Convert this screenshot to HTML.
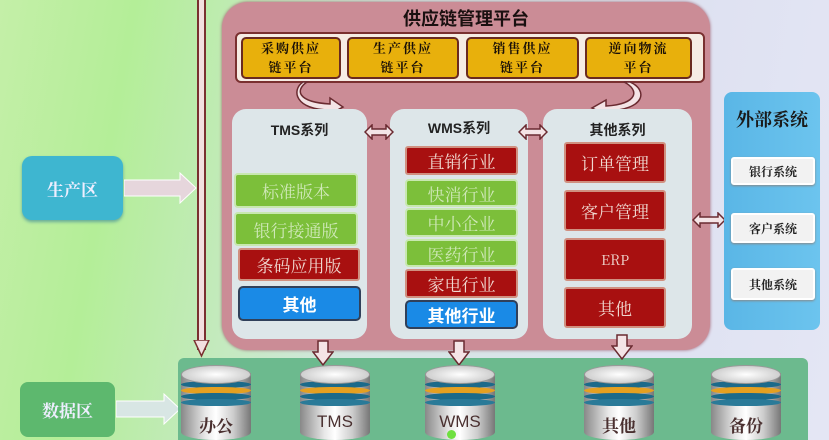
<!DOCTYPE html>
<html><head><meta charset="utf-8"><style>
*{margin:0;padding:0;box-sizing:border-box}
body{width:829px;height:440px;overflow:hidden;position:relative;font-family:"Liberation Sans","Noto Sans CJK SC",sans-serif;
background:linear-gradient(100deg,#c4efa8 0%,#b4ee98 15%,#d2e6e0 45%,#dfe2f2 80%,#e4e6f4 100%)}
.a{position:absolute}
.c{display:flex;align-items:center;justify-content:center;text-align:center}
.y{background:#e8b00c;border:2px solid #6a2a20;border-radius:5px;font-weight:bold;font-size:13px;line-height:19px;color:#1a1008;letter-spacing:2px;font-family:"Liberation Serif","Noto Serif CJK SC",serif}
.g{background:#7cbf3a;border:2px solid #c8e8b0;border-radius:4px;color:#cfe8b8;font-size:17px;font-family:"Noto Serif CJK SC",serif}
.r{background:#a81010;border:2px solid #d09080;border-radius:3px;color:#f0d8d0;font-size:17px;font-family:"Noto Serif CJK SC",serif}
.b{background:#1a8ae6;border:2px solid #30405a;border-radius:5px;color:#fff;font-size:17px;font-weight:bold}
.col{background:#dde6e9;border-radius:14px}
.hd{font-size:14px;font-weight:bold;color:#222}
.ex{background:#f2f2f2;border:2px solid #fff;border-radius:3px;box-shadow:0 1px 2px #888;font-size:12px;font-weight:bold;color:#222;font-family:"Noto Serif CJK SC",serif}
.cyl{position:absolute;width:70px;height:75px}
.cyl .body{position:absolute;left:0;top:8px;width:70px;height:67px;border-radius:0 0 35px 35px/0 0 8px 8px;background:linear-gradient(90deg,#888 0%,#e8e8e8 35%,#fff 50%,#ccc 75%,#777 100%)}
.cyl .band{position:absolute;left:0;width:70px;height:7px;border-radius:35px/4px}
.cyl .top{position:absolute;left:0;top:0;width:70px;height:19px;border-radius:50%;background:radial-gradient(#fff,#bbb);border:1px solid #999}
.cyl .lb{position:absolute;left:0;width:70px;top:47px;text-align:center;font-size:17px;color:#4a3030}
</style></head><body>

<div class="a" style="left:197px;top:0;width:9px;height:350px;border-left:2px solid #7a3030;border-right:2px solid #7a3030;background:#f2e0e0"></div>
<svg class="a" style="left:193px;top:340px" width="17" height="18"><polygon points="1,0 16,0 8.5,16" fill="#f2e0e0" stroke="#7a3030" stroke-width="1.5"/></svg>

<div class="a" style="left:222px;top:2px;width:488px;height:348px;background:#cb8c96;border-radius:26px;box-shadow:0 0 3px #a06070"></div>
<div class="a hd" style="left:222px;top:5px;width:488px;text-align:center;font-size:18px;color:#1a1010">供应链管理平台</div>
<div class="a" style="left:235px;top:32px;width:470px;height:51px;background:#f6ece4;border:2px solid #7a3030;border-radius:6px"></div>
<div class="a c y" style="left:241px;top:37px;width:100px;height:42px">采购供应<br>链平台</div>
<div class="a c y" style="left:347px;top:37px;width:112px;height:42px">生产供应<br>链平台</div>
<div class="a c y" style="left:466px;top:37px;width:113px;height:42px">销售供应<br>链平台</div>
<div class="a c y" style="left:585px;top:37px;width:107px;height:42px">逆向物流<br>平台</div>

<svg class="a" style="left:295px;top:80px" width="60" height="36"><path d="M12,2 C0,10 2,22 35,24 L35,18 L48,27 L35,34 L35,30 C0,30 -4,10 8,2 Z" fill="#f4e4e6" stroke="#6a2a30" stroke-width="1.5"/></svg>
<svg class="a" style="left:588px;top:80px" width="60" height="36"><path d="M36,2 C52,10 50,24 18,26 L18,20 L4,28 L18,35 L18,31 C58,30 60,10 42,2 Z" fill="#f4e4e6" stroke="#6a2a30" stroke-width="1.5"/></svg>

<div class="a col" style="left:232px;top:109px;width:135px;height:230px"></div>
<div class="a col" style="left:390px;top:109px;width:138px;height:230px"></div>
<div class="a col" style="left:543px;top:109px;width:149px;height:230px"></div>
<div class="a hd" style="left:232px;top:120px;width:135px;text-align:center">TMS系列</div>
<div class="a hd" style="left:390px;top:118px;width:138px;text-align:center">WMS系列</div>
<div class="a hd" style="left:543px;top:120px;width:149px;text-align:center">其他系列</div>

<div class="a c g" style="left:234px;top:173px;width:124px;height:35px">标准版本</div>
<div class="a c g" style="left:234px;top:212px;width:124px;height:34px">银行接通版</div>
<div class="a c r" style="left:238px;top:248px;width:122px;height:33px">条码应用版</div>
<div class="a c b" style="left:238px;top:286px;width:123px;height:35px">其他</div>

<div class="a c r" style="left:405px;top:146px;width:113px;height:29px">直销行业</div>
<div class="a c g" style="left:405px;top:179px;width:113px;height:28px">快消行业</div>
<div class="a c g" style="left:405px;top:208px;width:113px;height:29px">中小企业</div>
<div class="a c g" style="left:405px;top:239px;width:113px;height:28px">医药行业</div>
<div class="a c r" style="left:405px;top:269px;width:113px;height:29px">家电行业</div>
<div class="a c b" style="left:405px;top:300px;width:113px;height:29px">其他行业</div>

<div class="a c r" style="left:564px;top:142px;width:102px;height:41px">订单管理</div>
<div class="a c r" style="left:564px;top:190px;width:102px;height:41px">客户管理</div>
<div class="a c r" style="left:564px;top:238px;width:102px;height:43px;font-size:14px">ERP</div>
<div class="a c r" style="left:564px;top:287px;width:102px;height:41px">其他</div>

<svg class="a" style="left:364px;top:124px" width="30" height="16"><polygon points="1,8 8,1 8,5 22,5 22,1 29,8 22,15 22,11 8,11 8,15" fill="#f4e4e6" stroke="#6a2a30" stroke-width="1.5"/></svg>
<svg class="a" style="left:518px;top:124px" width="30" height="16"><polygon points="1,8 8,1 8,5 22,5 22,1 29,8 22,15 22,11 8,11 8,15" fill="#f4e4e6" stroke="#6a2a30" stroke-width="1.5"/></svg>
<svg class="a" style="left:692px;top:212px" width="34" height="16"><polygon points="1,8 8,1 8,5 26,5 26,1 33,8 26,15 26,11 8,11 8,15" fill="#f4e4e6" stroke="#6a2a30" stroke-width="1.5"/></svg>

<div class="a" style="left:724px;top:92px;width:96px;height:238px;background:linear-gradient(90deg,#5ab6e6,#6cc4ee);border-radius:8px"></div>
<div class="a hd" style="left:724px;top:106px;width:96px;text-align:center;font-size:18px;color:#1a1a1a;font-family:'Noto Serif CJK SC',serif">外部系统</div>
<div class="a c ex" style="left:731px;top:157px;width:84px;height:28px">银行系统</div>
<div class="a c ex" style="left:731px;top:213px;width:84px;height:30px">客户系统</div>
<div class="a c ex" style="left:731px;top:268px;width:84px;height:32px">其他系统</div>

<div class="a c" style="left:22px;top:156px;width:101px;height:64px;background:#3eb6d0;border-radius:10px;color:#eef;font-size:17px;font-weight:bold;font-family:'Noto Serif CJK SC',serif;box-shadow:0 2px 3px #6a9">生产区</div>
<svg class="a" style="left:124px;top:172px" width="74" height="32"><polygon points="0,8 56,8 56,1 72,16 56,31 56,24 0,24" fill="#e6d6dc" stroke="#fff" stroke-width="1"/></svg>
<div class="a c" style="left:20px;top:382px;width:95px;height:55px;background:#5db86e;border-radius:8px;color:#eef;font-size:17px;font-weight:bold;font-family:'Noto Serif CJK SC',serif">数据区</div>
<svg class="a" style="left:116px;top:393px" width="66" height="32"><polygon points="0,8 48,8 48,1 64,16 48,31 48,24 0,24" fill="#d8e6e4" stroke="#fff" stroke-width="1"/></svg>

<div class="a" style="left:178px;top:358px;width:630px;height:82px;background:#6cba8e;border-radius:6px 6px 0 0"></div>

<svg class="a" style="left:312px;top:340px" width="22" height="26"><polygon points="6,1 16,1 16,12 21,12 11,25 1,12 6,12" fill="#f4e4e6" stroke="#6a2a30" stroke-width="1.5"/></svg>
<svg class="a" style="left:448px;top:340px" width="22" height="26"><polygon points="6,1 16,1 16,12 21,12 11,25 1,12 6,12" fill="#f4e4e6" stroke="#6a2a30" stroke-width="1.5"/></svg>
<svg class="a" style="left:611px;top:334px" width="22" height="26"><polygon points="6,1 16,1 16,12 21,12 11,25 1,12 6,12" fill="#f4e4e6" stroke="#6a2a30" stroke-width="1.5"/></svg>

<div class="cyl" style="left:181px;top:365px"><div class="body"></div>
<div class="band" style="top:16px;background:#1c6a8a"></div><div class="band" style="top:22px;background:#e6a020"></div><div class="band" style="top:28px;background:#1c6a8a"></div><div class="band" style="top:34px;background:#2a7a98"></div>
<div class="top"></div><div class="lb" style="font-family:'Noto Serif CJK SC',serif;font-weight:bold">办公</div></div>
<div class="cyl" style="left:300px;top:365px"><div class="body"></div>
<div class="band" style="top:16px;background:#1c6a8a"></div><div class="band" style="top:22px;background:#e6a020"></div><div class="band" style="top:28px;background:#1c6a8a"></div><div class="band" style="top:34px;background:#2a7a98"></div>
<div class="top"></div><div class="lb">TMS</div></div>
<div class="cyl" style="left:425px;top:365px"><div class="body"></div>
<div class="band" style="top:16px;background:#1c6a8a"></div><div class="band" style="top:22px;background:#e6a020"></div><div class="band" style="top:28px;background:#1c6a8a"></div><div class="band" style="top:34px;background:#2a7a98"></div>
<div class="top"></div><div class="lb">WMS</div></div>
<div class="a" style="left:447px;top:430px;width:9px;height:9px;border-radius:50%;background:#6ee040"></div>
<div class="cyl" style="left:584px;top:365px"><div class="body"></div>
<div class="band" style="top:16px;background:#1c6a8a"></div><div class="band" style="top:22px;background:#e6a020"></div><div class="band" style="top:28px;background:#1c6a8a"></div><div class="band" style="top:34px;background:#2a7a98"></div>
<div class="top"></div><div class="lb" style="font-family:'Noto Serif CJK SC',serif;font-weight:bold">其他</div></div>
<div class="cyl" style="left:711px;top:365px"><div class="body"></div>
<div class="band" style="top:16px;background:#1c6a8a"></div><div class="band" style="top:22px;background:#e6a020"></div><div class="band" style="top:28px;background:#1c6a8a"></div><div class="band" style="top:34px;background:#2a7a98"></div>
<div class="top"></div><div class="lb" style="font-family:'Noto Serif CJK SC',serif;font-weight:bold">备份</div></div>

</body></html>
